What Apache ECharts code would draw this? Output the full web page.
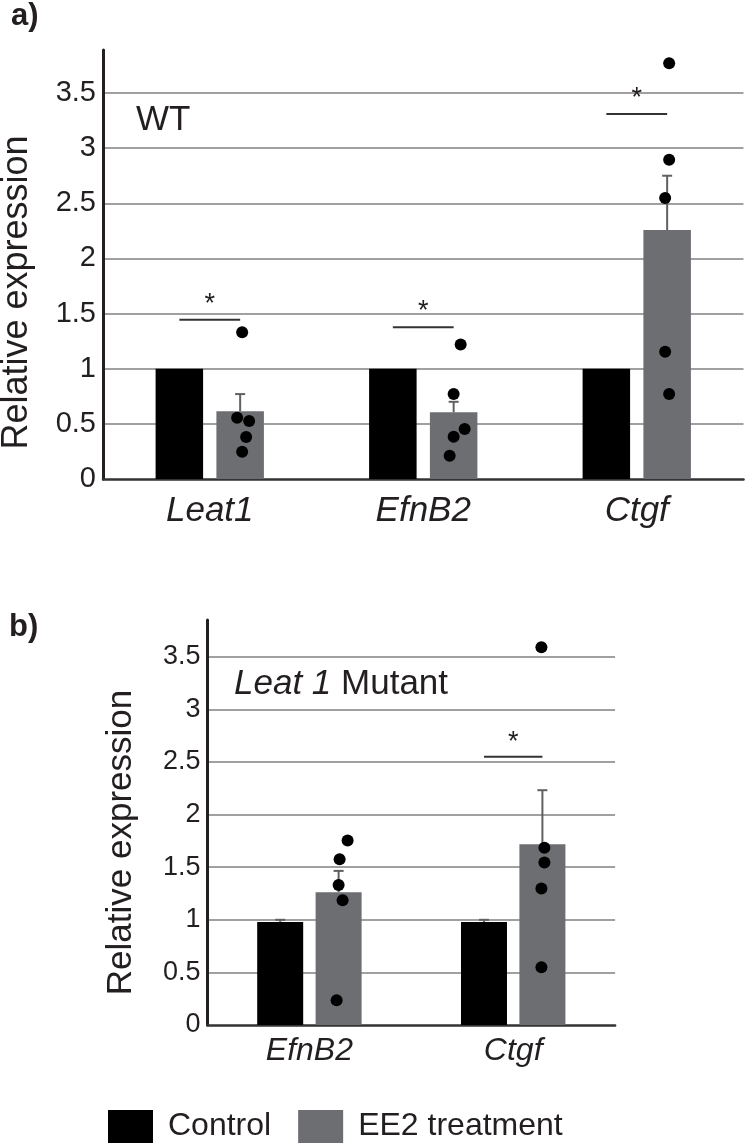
<!DOCTYPE html>
<html><head><meta charset="utf-8">
<script src="https://cdn.jsdelivr.net/npm/echarts@6/dist/echarts.min.js"></script>
<style>html,body{margin:0;padding:0;background:#fff}#c{width:745px;height:1143px}</style>
</head><body><div id="c"></div>
<script>
// ---- Panel a (WT) ----
const categoriesA = ['Leat1', 'EfnB2', 'Ctgf'];
const controlA = [1, 1, 1];
const treatA = [0.614, 0.605, 2.257];
const treatErrTopA = [0.77, 0.70, 2.75];
const dotsA = [
  [1.33, 0.556, 0.526, 0.38, 0.248],
  [1.22, 0.77, 0.453, 0.384, 0.211],
  [3.77, 2.895, 2.548, 1.154, 0.77]
];
const jitterA = [[2, -3, 9, 6, 2], [7, 0, 11, 0, -4], [2, 2, -2, -2, 2]];
const sigA = [1.444, 1.375, 3.31];

// ---- Panel b (Leat 1 Mutant) ----
const categoriesB = ['EfnB2', 'Ctgf'];
const controlB = [0.98, 0.98];
const controlErrTopB = [1.0, 1.0];
const treatB = [1.263, 1.719];
const treatErrTopB = [1.465, 2.232];
const dotsB = [
  [1.754, 1.576, 1.33, 1.187, 0.235],
  [3.59, 1.684, 1.545, 1.298, 0.548]
];
const jitterB = [[9, 1, 0, 4, -2], [-1, 2, 2, -1, -1]];
const sigB = [null, 2.55];

const yMaxA = 3.89, yMaxB = 3.85, yStep = 0.5;
const seriesNames = ['Control', 'EE2 treatment'];

// ---- styling ----
const FONT = 'Liberation Sans, Arial, Helvetica, sans-serif';
const TXT = '#231f20';
const BLACK = '#000000';
const GREY = '#6d6e71';
const GRID = '#808080';
const barWA = 47.5, gapA = 0.28;
const barWB = 46, gapB = 0.27;
const offA = barWA * (1 + gapA) / 2;
const offB = barWB * (1 + gapB) / 2;

function tickFmt(v) {
  return Math.abs(v / yStep - Math.round(v / yStep)) < 1e-6 ? String(+v.toFixed(2)) : '';
}

function yAxis(gridIndex, max, fs, nameGap, nameSize, nameShift) {
  return {
    type: 'value', gridIndex, min: 0, max, interval: yStep,
    name: 'Relative expression', nameLocation: 'middle', nameGap,
    nameTextStyle: { fontFamily: FONT, fontSize: nameSize, color: TXT, padding: [0, nameShift * 2, 0, 0] },
    axisLine: { show: true, lineStyle: { color: TXT, width: 3 } },
    axisTick: { show: false },
    axisLabel: { fontFamily: FONT, fontSize: fs, color: TXT, margin: 7, formatter: tickFmt, showMaxLabel: false },
    splitLine: { show: true, showMinLine: false, showMaxLine: false, lineStyle: { color: GRID, width: 1.5 } }
  };
}
function xAxis(gridIndex, cats, fs, margin) {
  return {
    type: 'category', gridIndex, data: cats,
    axisLine: { show: true, lineStyle: { color: '#333', width: 2.5 } },
    axisTick: { show: false },
    axisLabel: { fontFamily: FONT, fontSize: fs, fontStyle: 'italic', color: TXT, margin }
  };
}

function errSeries(idx, data, off) {
  return {
    type: 'custom', xAxisIndex: idx, yAxisIndex: idx, z: 5, silent: true,
    data,
    renderItem(params, api) {
      const c = api.coord([api.value(0), api.value(1)]);
      const t = api.coord([api.value(0), api.value(2)]);
      const x = c[0] + off;
      const st = { stroke: '#5f6063', lineWidth: 2 };
      return { type: 'group', children: [
        { type: 'line', shape: { x1: x, y1: c[1], x2: x, y2: t[1] }, style: st },
        { type: 'line', shape: { x1: x - 5, y1: t[1], x2: x + 5, y2: t[1] }, style: st }
      ] };
    }
  };
}
function sigSeries(idx, levels, off, starGap) {
  const data = [];
  levels.forEach((v, i) => { if (v != null) data.push([i, v]); });
  return {
    type: 'custom', xAxisIndex: idx, yAxisIndex: idx, z: 6, silent: true,
    data,
    renderItem(params, api) {
      const c = api.coord([api.value(0), api.value(1)]);
      return { type: 'group', children: [
        { type: 'line', shape: { x1: c[0] - off, y1: c[1], x2: c[0] + off, y2: c[1] },
          style: { stroke: '#333', lineWidth: 2 } },
        { type: 'text', x: c[0], y: c[1] - starGap,
          style: { text: '*', fontFamily: FONT, fontSize: 27, fill: TXT, align: 'center', verticalAlign: 'bottom' } }
      ] };
    }
  };
}
function dotSeries(idx, dots, jit, off) {
  const data = [];
  dots.forEach((arr, i) => arr.forEach((v, k) => {
    data.push({ value: [i, v], symbolOffset: [off + jit[i][k], 0] });
  }));
  return {
    type: 'scatter', xAxisIndex: idx, yAxisIndex: idx, z: 7, silent: true,
    symbol: 'circle', symbolSize: 12, itemStyle: { color: '#000', opacity: 1 },
    data
  };
}

const chart = echarts.init(document.getElementById('c'), null, { renderer: 'canvas' });
chart.setOption({
  animation: false,
  backgroundColor: '#fff',
  grid: [
    { left: 103, top: 50, width: 640.5, height: 429, outerBoundsMode: 'none', containLabel: false },
    { left: 207.5, top: 620, width: 407.6, height: 405, outerBoundsMode: 'none', containLabel: false }
  ],
  xAxis: [xAxis(0, categoriesA, 35, 15), xAxis(1, categoriesB, 32, 10)],
  yAxis: [yAxis(0, yMaxA, 29, 68, 36, 28), yAxis(1, yMaxB, 27, 69, 35, 20)],
  legend: {
    data: seriesNames, left: 108, top: 1110, padding: 0, itemWidth: 45, itemHeight: 33, itemGap: 27,
    icon: 'rect', selectedMode: false,
    textStyle: { fontFamily: FONT, fontSize: 32, color: TXT, padding: [0, 0, 0, 10] }
  },
  graphic: [
    { type: 'text', left: 11, top: 1, style: { text: 'a)', fontFamily: FONT, fontSize: 31, fontWeight: 'bold', fill: TXT } },
    { type: 'text', left: 9, top: 612, style: { text: 'b)', fontFamily: FONT, fontSize: 31, fontWeight: 'bold', fill: TXT } },
    { type: 'text', left: 136, top: 103, style: { text: 'WT', fontFamily: FONT, fontSize: 35, fill: TXT } },
    { type: 'text', left: 234, top: 667, style: {
        text: '{i|Leat 1} Mutant', fontFamily: FONT, fontSize: 35, fill: TXT,
        rich: { i: { fontFamily: FONT, fontSize: 35, fontStyle: 'italic', fill: TXT } } } }
  ],
  series: [
    { name: 'Control', type: 'bar', xAxisIndex: 0, yAxisIndex: 0, data: controlA, barWidth: barWA, barGap: (gapA * 100) + '%', itemStyle: { color: BLACK } },
    { name: 'EE2 treatment', type: 'bar', xAxisIndex: 0, yAxisIndex: 0, data: treatA, barWidth: barWA, barGap: (gapA * 100) + '%', itemStyle: { color: GREY } },
    errSeries(0, treatA.map((v, i) => [i, v, treatErrTopA[i]]), offA),
    sigSeries(0, sigA, offA, 2),
    dotSeries(0, dotsA, jitterA, offA),

    { name: 'Control', type: 'bar', xAxisIndex: 1, yAxisIndex: 1, data: controlB, barWidth: barWB, barGap: (gapB * 100) + '%', itemStyle: { color: BLACK } },
    { name: 'EE2 treatment', type: 'bar', xAxisIndex: 1, yAxisIndex: 1, data: treatB, barWidth: barWB, barGap: (gapB * 100) + '%', itemStyle: { color: GREY } },
    errSeries(1, controlB.map((v, i) => [i, v, controlErrTopB[i]]), -offB),
    errSeries(1, treatB.map((v, i) => [i, v, treatErrTopB[i]]), offB),
    sigSeries(1, sigB, offB, 1),
    dotSeries(1, dotsB, jitterB, offB)
  ]
});
</script>
</body></html>
